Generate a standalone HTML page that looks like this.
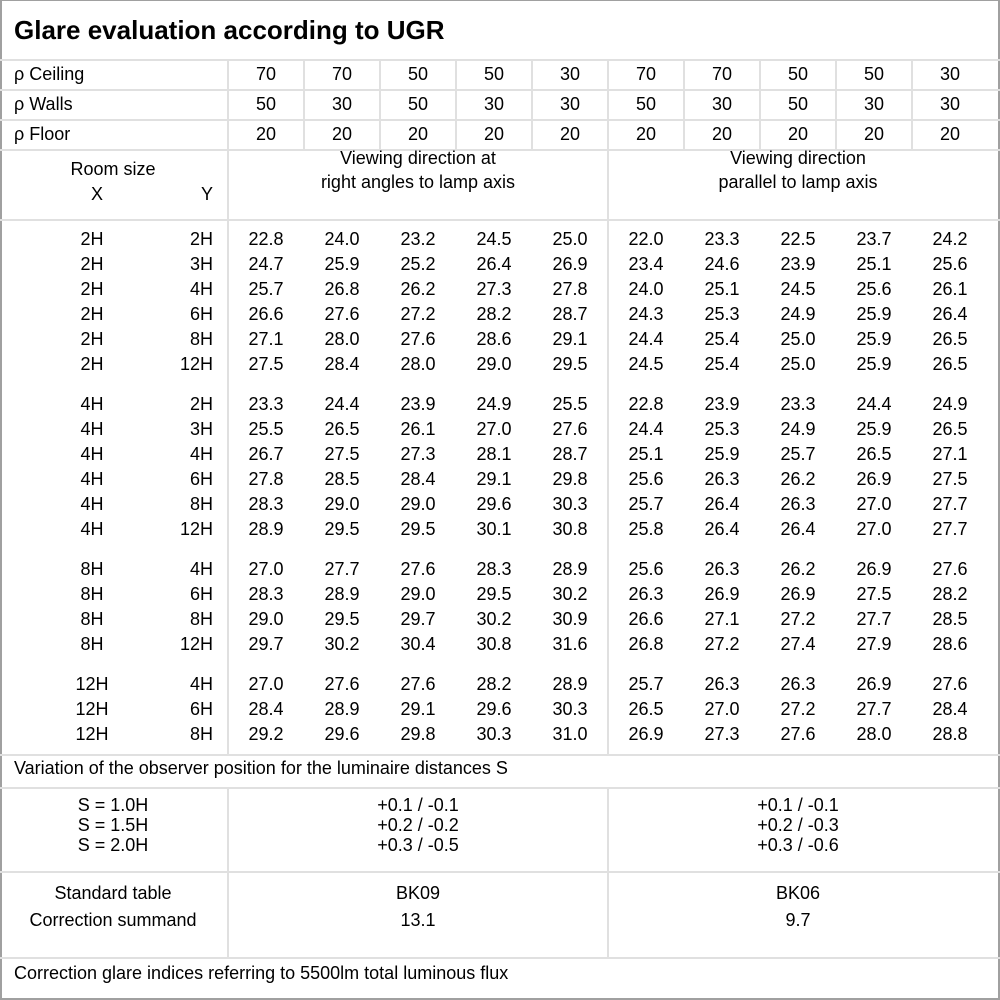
<!DOCTYPE html>
<html><head><meta charset="utf-8"><style>
*{margin:0;padding:0;box-sizing:border-box}
body{width:1000px;height:1000px;background:#fff;position:relative;overflow:hidden;font-family:"Liberation Sans","DejaVu Sans",sans-serif;font-size:18px;color:#000}
.frame{position:absolute;left:0;top:0;width:1000px;height:1000px;border:2px solid #a0a0a0;border-top:1px solid #a0a0a0}
.h{position:absolute;height:2px;background:#e0e0e0}
.v{position:absolute;width:2px;background:#e0e0e0}
.r{position:absolute;left:0;width:1000px;height:24px;line-height:24px;white-space:nowrap}
.r span{position:absolute;top:0;text-align:center;width:76px}
.r .x{left:52px;width:80px}
.r .y{left:133px;width:80px;text-align:right}
.t{position:absolute;white-space:nowrap;line-height:24px}
.c{text-align:center}
</style></head><body>
<div class="frame"></div>
<div class="t" style="left:14px;top:14px;font-size:26px;font-weight:bold;line-height:32px">Glare evaluation according to UGR</div>
<div class="h" style="left:0;width:1000px;top:59px"></div>
<div class="h" style="left:0;width:1000px;top:89px"></div>
<div class="h" style="left:0;width:1000px;top:119px"></div>
<div class="h" style="left:0;width:1000px;top:149px"></div>
<div class="h" style="left:0;width:1000px;top:219px"></div>
<div class="h" style="left:0;width:1000px;top:754px"></div>
<div class="h" style="left:0;width:1000px;top:787px"></div>
<div class="h" style="left:0;width:1000px;top:871px"></div>
<div class="h" style="left:0;width:1000px;top:957px"></div>
<div class="v" style="left:227px;top:60px;height:695px"></div>
<div class="v" style="left:227px;top:788px;height:170px"></div>
<div class="v" style="left:607px;top:60px;height:695px"></div>
<div class="v" style="left:607px;top:788px;height:170px"></div>
<div class="v" style="left:303px;top:60px;height:90px"></div>
<div class="v" style="left:379px;top:60px;height:90px"></div>
<div class="v" style="left:455px;top:60px;height:90px"></div>
<div class="v" style="left:531px;top:60px;height:90px"></div>
<div class="v" style="left:683px;top:60px;height:90px"></div>
<div class="v" style="left:759px;top:60px;height:90px"></div>
<div class="v" style="left:835px;top:60px;height:90px"></div>
<div class="v" style="left:911px;top:60px;height:90px"></div>

<div class="r" style="top:62px"><span style="left:14px;width:200px;text-align:left">ρ Ceiling</span><span style="left:228px">70</span><span style="left:304px">70</span><span style="left:380px">50</span><span style="left:456px">50</span><span style="left:532px">30</span><span style="left:608px">70</span><span style="left:684px">70</span><span style="left:760px">50</span><span style="left:836px">50</span><span style="left:912px">30</span></div>
<div class="r" style="top:92px"><span style="left:14px;width:200px;text-align:left">ρ Walls</span><span style="left:228px">50</span><span style="left:304px">30</span><span style="left:380px">50</span><span style="left:456px">30</span><span style="left:532px">30</span><span style="left:608px">50</span><span style="left:684px">30</span><span style="left:760px">50</span><span style="left:836px">30</span><span style="left:912px">30</span></div>
<div class="r" style="top:122px"><span style="left:14px;width:200px;text-align:left">ρ Floor</span><span style="left:228px">20</span><span style="left:304px">20</span><span style="left:380px">20</span><span style="left:456px">20</span><span style="left:532px">20</span><span style="left:608px">20</span><span style="left:684px">20</span><span style="left:760px">20</span><span style="left:836px">20</span><span style="left:912px">20</span></div>

<div class="t c" style="left:13px;width:200px;top:157px">Room size</div>
<div class="t" style="left:91px;top:182px">X</div>
<div class="t" style="left:201px;top:182px">Y</div>
<div class="t c" style="left:228px;width:380px;top:146px">Viewing direction at<br>right angles to lamp axis</div>
<div class="t c" style="left:608px;width:380px;top:146px">Viewing direction<br>parallel to lamp axis</div>

<div class="r" style="top:227px"><span class="x">2H</span><span class="y">2H</span><span style="left:228px">22.8</span><span style="left:304px">24.0</span><span style="left:380px">23.2</span><span style="left:456px">24.5</span><span style="left:532px">25.0</span><span style="left:608px">22.0</span><span style="left:684px">23.3</span><span style="left:760px">22.5</span><span style="left:836px">23.7</span><span style="left:912px">24.2</span></div>
<div class="r" style="top:252px"><span class="x">2H</span><span class="y">3H</span><span style="left:228px">24.7</span><span style="left:304px">25.9</span><span style="left:380px">25.2</span><span style="left:456px">26.4</span><span style="left:532px">26.9</span><span style="left:608px">23.4</span><span style="left:684px">24.6</span><span style="left:760px">23.9</span><span style="left:836px">25.1</span><span style="left:912px">25.6</span></div>
<div class="r" style="top:277px"><span class="x">2H</span><span class="y">4H</span><span style="left:228px">25.7</span><span style="left:304px">26.8</span><span style="left:380px">26.2</span><span style="left:456px">27.3</span><span style="left:532px">27.8</span><span style="left:608px">24.0</span><span style="left:684px">25.1</span><span style="left:760px">24.5</span><span style="left:836px">25.6</span><span style="left:912px">26.1</span></div>
<div class="r" style="top:302px"><span class="x">2H</span><span class="y">6H</span><span style="left:228px">26.6</span><span style="left:304px">27.6</span><span style="left:380px">27.2</span><span style="left:456px">28.2</span><span style="left:532px">28.7</span><span style="left:608px">24.3</span><span style="left:684px">25.3</span><span style="left:760px">24.9</span><span style="left:836px">25.9</span><span style="left:912px">26.4</span></div>
<div class="r" style="top:327px"><span class="x">2H</span><span class="y">8H</span><span style="left:228px">27.1</span><span style="left:304px">28.0</span><span style="left:380px">27.6</span><span style="left:456px">28.6</span><span style="left:532px">29.1</span><span style="left:608px">24.4</span><span style="left:684px">25.4</span><span style="left:760px">25.0</span><span style="left:836px">25.9</span><span style="left:912px">26.5</span></div>
<div class="r" style="top:352px"><span class="x">2H</span><span class="y">12H</span><span style="left:228px">27.5</span><span style="left:304px">28.4</span><span style="left:380px">28.0</span><span style="left:456px">29.0</span><span style="left:532px">29.5</span><span style="left:608px">24.5</span><span style="left:684px">25.4</span><span style="left:760px">25.0</span><span style="left:836px">25.9</span><span style="left:912px">26.5</span></div>

<div class="r" style="top:392px"><span class="x">4H</span><span class="y">2H</span><span style="left:228px">23.3</span><span style="left:304px">24.4</span><span style="left:380px">23.9</span><span style="left:456px">24.9</span><span style="left:532px">25.5</span><span style="left:608px">22.8</span><span style="left:684px">23.9</span><span style="left:760px">23.3</span><span style="left:836px">24.4</span><span style="left:912px">24.9</span></div>
<div class="r" style="top:417px"><span class="x">4H</span><span class="y">3H</span><span style="left:228px">25.5</span><span style="left:304px">26.5</span><span style="left:380px">26.1</span><span style="left:456px">27.0</span><span style="left:532px">27.6</span><span style="left:608px">24.4</span><span style="left:684px">25.3</span><span style="left:760px">24.9</span><span style="left:836px">25.9</span><span style="left:912px">26.5</span></div>
<div class="r" style="top:442px"><span class="x">4H</span><span class="y">4H</span><span style="left:228px">26.7</span><span style="left:304px">27.5</span><span style="left:380px">27.3</span><span style="left:456px">28.1</span><span style="left:532px">28.7</span><span style="left:608px">25.1</span><span style="left:684px">25.9</span><span style="left:760px">25.7</span><span style="left:836px">26.5</span><span style="left:912px">27.1</span></div>
<div class="r" style="top:467px"><span class="x">4H</span><span class="y">6H</span><span style="left:228px">27.8</span><span style="left:304px">28.5</span><span style="left:380px">28.4</span><span style="left:456px">29.1</span><span style="left:532px">29.8</span><span style="left:608px">25.6</span><span style="left:684px">26.3</span><span style="left:760px">26.2</span><span style="left:836px">26.9</span><span style="left:912px">27.5</span></div>
<div class="r" style="top:492px"><span class="x">4H</span><span class="y">8H</span><span style="left:228px">28.3</span><span style="left:304px">29.0</span><span style="left:380px">29.0</span><span style="left:456px">29.6</span><span style="left:532px">30.3</span><span style="left:608px">25.7</span><span style="left:684px">26.4</span><span style="left:760px">26.3</span><span style="left:836px">27.0</span><span style="left:912px">27.7</span></div>
<div class="r" style="top:517px"><span class="x">4H</span><span class="y">12H</span><span style="left:228px">28.9</span><span style="left:304px">29.5</span><span style="left:380px">29.5</span><span style="left:456px">30.1</span><span style="left:532px">30.8</span><span style="left:608px">25.8</span><span style="left:684px">26.4</span><span style="left:760px">26.4</span><span style="left:836px">27.0</span><span style="left:912px">27.7</span></div>

<div class="r" style="top:557px"><span class="x">8H</span><span class="y">4H</span><span style="left:228px">27.0</span><span style="left:304px">27.7</span><span style="left:380px">27.6</span><span style="left:456px">28.3</span><span style="left:532px">28.9</span><span style="left:608px">25.6</span><span style="left:684px">26.3</span><span style="left:760px">26.2</span><span style="left:836px">26.9</span><span style="left:912px">27.6</span></div>
<div class="r" style="top:582px"><span class="x">8H</span><span class="y">6H</span><span style="left:228px">28.3</span><span style="left:304px">28.9</span><span style="left:380px">29.0</span><span style="left:456px">29.5</span><span style="left:532px">30.2</span><span style="left:608px">26.3</span><span style="left:684px">26.9</span><span style="left:760px">26.9</span><span style="left:836px">27.5</span><span style="left:912px">28.2</span></div>
<div class="r" style="top:607px"><span class="x">8H</span><span class="y">8H</span><span style="left:228px">29.0</span><span style="left:304px">29.5</span><span style="left:380px">29.7</span><span style="left:456px">30.2</span><span style="left:532px">30.9</span><span style="left:608px">26.6</span><span style="left:684px">27.1</span><span style="left:760px">27.2</span><span style="left:836px">27.7</span><span style="left:912px">28.5</span></div>
<div class="r" style="top:632px"><span class="x">8H</span><span class="y">12H</span><span style="left:228px">29.7</span><span style="left:304px">30.2</span><span style="left:380px">30.4</span><span style="left:456px">30.8</span><span style="left:532px">31.6</span><span style="left:608px">26.8</span><span style="left:684px">27.2</span><span style="left:760px">27.4</span><span style="left:836px">27.9</span><span style="left:912px">28.6</span></div>

<div class="r" style="top:672px"><span class="x">12H</span><span class="y">4H</span><span style="left:228px">27.0</span><span style="left:304px">27.6</span><span style="left:380px">27.6</span><span style="left:456px">28.2</span><span style="left:532px">28.9</span><span style="left:608px">25.7</span><span style="left:684px">26.3</span><span style="left:760px">26.3</span><span style="left:836px">26.9</span><span style="left:912px">27.6</span></div>
<div class="r" style="top:697px"><span class="x">12H</span><span class="y">6H</span><span style="left:228px">28.4</span><span style="left:304px">28.9</span><span style="left:380px">29.1</span><span style="left:456px">29.6</span><span style="left:532px">30.3</span><span style="left:608px">26.5</span><span style="left:684px">27.0</span><span style="left:760px">27.2</span><span style="left:836px">27.7</span><span style="left:912px">28.4</span></div>
<div class="r" style="top:722px"><span class="x">12H</span><span class="y">8H</span><span style="left:228px">29.2</span><span style="left:304px">29.6</span><span style="left:380px">29.8</span><span style="left:456px">30.3</span><span style="left:532px">31.0</span><span style="left:608px">26.9</span><span style="left:684px">27.3</span><span style="left:760px">27.6</span><span style="left:836px">28.0</span><span style="left:912px">28.8</span></div>

<div class="t" style="left:14px;top:756px">Variation of the observer position for the luminaire distances S</div>
<div class="t c" style="left:13px;width:200px;top:795px;line-height:20px">S = 1.0H<br>S = 1.5H<br>S = 2.0H</div>
<div class="t c" style="left:228px;width:380px;top:795px;line-height:20px">+0.1 / -0.1<br>+0.2 / -0.2<br>+0.3 / -0.5</div>
<div class="t c" style="left:608px;width:380px;top:795px;line-height:20px">+0.1 / -0.1<br>+0.2 / -0.3<br>+0.3 / -0.6</div>
<div class="t c" style="left:13px;width:200px;top:880px;line-height:27px">Standard table<br>Correction summand</div>
<div class="t c" style="left:228px;width:380px;top:880px;line-height:27px">BK09<br>13.1</div>
<div class="t c" style="left:608px;width:380px;top:880px;line-height:27px">BK06<br>9.7</div>
<div class="t" style="left:14px;top:961px">Correction glare indices referring to 5500lm total luminous flux</div>
</body></html>
